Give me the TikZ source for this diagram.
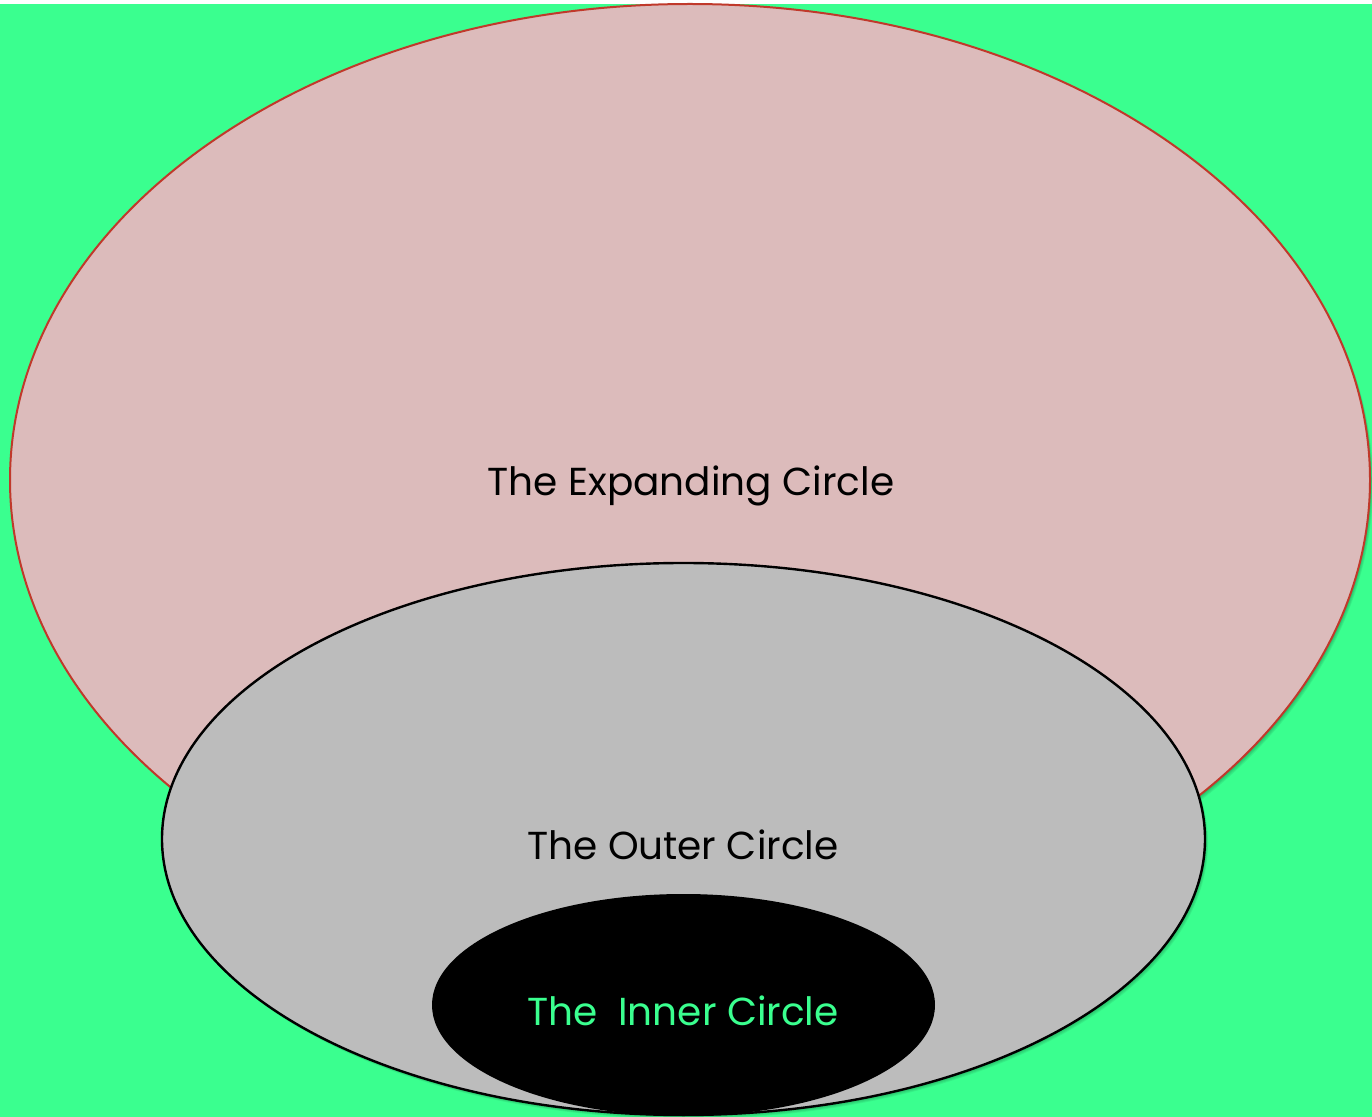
\documentclass[tikz,border=0pt]{standalone}
\usepackage{fontspec}
\setmainfont{Poppins}
\definecolor{bggreen}{RGB}{58,255,143}
\definecolor{pinkfill}{RGB}{220,187,187}
\definecolor{redline}{RGB}{192,57,43}
\definecolor{grayfill}{RGB}{188,188,188}
\begin{document}
\begin{tikzpicture}[x=0.5pt,y=-0.5pt,
  lbl/.style={font=\fontsize{19.5}{22}\selectfont},
  shad/.style={fill=black,opacity=0.06,draw=none}]
\useasboundingbox (0,0) rectangle (1372,1117);
\fill[white] (0,0) rectangle (1372,1117);
\fill[bggreen] (0,4) rectangle (1372,1117);
% expanding
\foreach \d in {1,2,3,4,5} {\fill[shad] (690+\d*0.6,480+\d*0.8) ellipse [x radius=680, y radius=476];}
\draw[redline,fill=pinkfill,line width=1pt] (690,480) ellipse [x radius=680, y radius=476];
% outer
\foreach \d in {1,2,3,4,5} {\fill[shad] (683.5+\d*0.6,839+\d*0.8) ellipse [x radius=521.5, y radius=276];}
\draw[black,fill=grayfill,line width=1.2pt] (683.5,839) ellipse [x radius=521.5, y radius=276];
% inner
\fill[black] (683.5,1005) ellipse [x radius=251.5, y radius=111];
\node[lbl] (exp) at (691,486) {The Expanding Circle};
\node[lbl] (out) at (683,845) {The Outer Circle};
\node[lbl,text=bggreen] (inn) at (683,1011) {The\ \ Inner Circle};
\end{tikzpicture}
\end{document}
